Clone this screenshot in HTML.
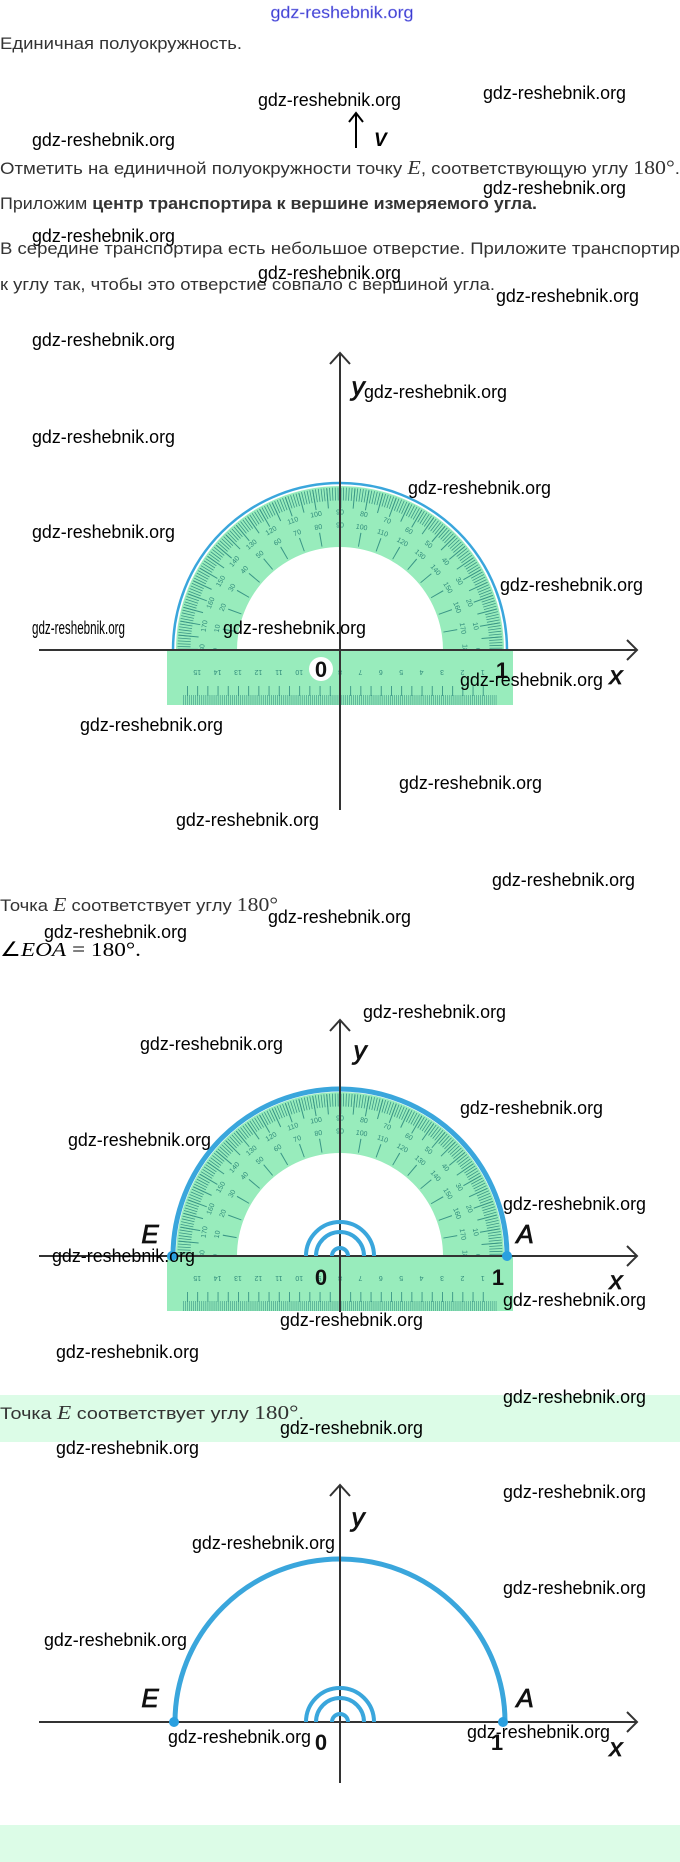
<!DOCTYPE html>
<html><head><meta charset="utf-8"><style>
html,body{margin:0;padding:0;background:#fff;width:680px;height:1862px;overflow:hidden}
svg{display:block}
.t{font-family:"Liberation Sans",sans-serif;font-size:17px;fill:#333}
.m{font-family:"Liberation Serif",serif;font-size:20px}
.w{font-family:"Liberation Sans",sans-serif;font-size:18px;fill:#000}
.lb{font-family:"Liberation Sans",sans-serif;font-style:italic;font-size:26px;fill:#111;stroke:#111;stroke-width:0.8}
.n{font-family:"Liberation Sans",sans-serif;font-weight:bold;font-size:22px;fill:#111}
.pn{font-family:"Liberation Sans",sans-serif;font-size:7px;fill:#2f8a7a}
</style></head><body>
<svg id="s" width="680" height="1862" viewBox="0 0 680 1862" xmlns="http://www.w3.org/2000/svg">
<defs>
<clipPath id="top1"><rect x="0" y="0" width="680" height="650"/></clipPath>
<clipPath id="top2"><rect x="0" y="850" width="680" height="406"/></clipPath>
</defs>
<rect x="0" y="1395" width="680" height="47" fill="#dcfce7"/>
<rect x="0" y="1825" width="680" height="37" fill="#dcfce7"/>

<text x="342" y="18" text-anchor="middle" font-family="Liberation Sans,sans-serif" font-size="17" fill="#3a3ad0" stroke="#9a9af0" stroke-width="0.4" textLength="143" lengthAdjust="spacingAndGlyphs">gdz-reshebnik.org</text>

<text class="t" x="0" y="49" textLength="242" lengthAdjust="spacingAndGlyphs">Единичная полуокружность.</text>
<line x1="356" y1="114" x2="356" y2="148" stroke="#000" stroke-width="2"/>
<polyline points="349,122 356,113 363,122" fill="none" stroke="#000" stroke-width="2"/>
<text x="374" y="146" font-family="Liberation Sans,sans-serif" font-weight="bold" font-style="italic" font-size="19">V</text>
<text class="t" x="0" y="174" textLength="680" lengthAdjust="spacingAndGlyphs">Отметить на единичной полуокружности точку <tspan class="m" font-style="italic">E</tspan>, соответствующую углу <tspan class="m">180°</tspan>.</text>
<text class="t" x="0" y="209" textLength="537" lengthAdjust="spacingAndGlyphs">Приложим <tspan font-weight="bold">центр транспортира к вершине измеряемого угла.</tspan></text>
<text class="t" x="0" y="254" textLength="680" lengthAdjust="spacingAndGlyphs">В середине транспортира есть небольшое отверстие. Приложите транспортир</text>
<text class="t" x="0" y="290" textLength="495" lengthAdjust="spacingAndGlyphs">к углу так, чтобы это отверстие совпало с вершиной угла.</text>

<g id="p1"></g>
<g stroke="#333" stroke-width="2" fill="none">
<line x1="39" y1="650" x2="637" y2="650"/><polyline points="627,640 637,650 627,660"/>
<line x1="340" y1="353" x2="340" y2="810"/><polyline points="330,364 340,353 350,364"/>
</g>
<circle cx="321" cy="669" r="12" fill="#fff"/>
<text class="n" x="321" y="677" text-anchor="middle">0</text>
<text class="n" x="502" y="678" text-anchor="middle">1</text>
<text class="lb" x="616" y="684" text-anchor="middle">x</text>
<text class="lb" x="358" y="395" text-anchor="middle" font-size="30">y</text>

<text class="t" x="0" y="911" textLength="278" lengthAdjust="spacingAndGlyphs">Точка <tspan class="m" font-style="italic">E</tspan> соответствует углу <tspan class="m">180°</tspan></text>
<text class="m" x="0" y="956" textLength="141" lengthAdjust="spacingAndGlyphs">∠<tspan font-style="italic">EOA</tspan> = 180°.</text>

<g id="p2"></g>
<g stroke="#333" stroke-width="2" fill="none">
<line x1="39" y1="1256" x2="637" y2="1256"/><polyline points="627,1246 637,1256 627,1266"/>
<line x1="340" y1="1020" x2="340" y2="1312"/><polyline points="330,1031 340,1020 350,1031"/>
</g>
<g stroke="#3aa6dc" stroke-width="4" fill="none">
<path d="M306 1256 A34 34 0 0 1 374 1256"/><path d="M316 1256 A24 24 0 0 1 364 1256"/><path d="M332 1256 A8 8 0 0 1 348 1256"/>
</g>
<circle cx="172" cy="1256" r="5" fill="#2aa0e0"/><circle cx="507" cy="1256" r="5" fill="#2aa0e0"/>
<text class="n" x="321" y="1285" text-anchor="middle">0</text>
<text class="n" x="498" y="1285" text-anchor="middle">1</text>
<text class="lb" x="616" y="1289" text-anchor="middle">x</text>
<text class="lb" x="360" y="1059" text-anchor="middle" font-size="30">y</text>
<text class="lb" x="150" y="1243" text-anchor="middle">E</text>
<text class="lb" x="525" y="1243" text-anchor="middle">A</text>

<text class="t" x="0" y="1419" textLength="304" lengthAdjust="spacingAndGlyphs">Точка <tspan class="m" font-style="italic">E</tspan> соответствует углу <tspan class="m">180°</tspan>.</text>

<path d="M175 1722 A165 163 0 0 1 505 1722" fill="none" stroke="#3aa6dc" stroke-width="5"/>
<g stroke="#333" stroke-width="2" fill="none">
<line x1="39" y1="1722" x2="637" y2="1722"/><polyline points="627,1712 637,1722 627,1732"/>
<line x1="340" y1="1485" x2="340" y2="1783"/><polyline points="330,1496 340,1485 350,1496"/>
</g>
<g stroke="#3aa6dc" stroke-width="4" fill="none">
<path d="M306 1722 A34 34 0 0 1 374 1722"/><path d="M316 1722 A24 24 0 0 1 364 1722"/><path d="M332 1722 A8 8 0 0 1 348 1722"/>
</g>
<circle cx="174" cy="1722" r="5" fill="#2aa0e0"/><circle cx="503" cy="1722" r="5" fill="#2aa0e0"/>
<text class="n" x="321" y="1750" text-anchor="middle">0</text>
<text class="n" x="497" y="1750" text-anchor="middle">1</text>
<text class="lb" x="616" y="1756" text-anchor="middle">x</text>
<text class="lb" x="358" y="1526" text-anchor="middle" font-size="30">y</text>
<text class="lb" x="150" y="1707" text-anchor="middle">E</text>
<text class="lb" x="525" y="1707" text-anchor="middle">A</text>

<g>
<text class="w" x="258" y="106" textLength="143" lengthAdjust="spacingAndGlyphs">gdz-reshebnik.org</text>
<text class="w" x="483" y="99" textLength="143" lengthAdjust="spacingAndGlyphs">gdz-reshebnik.org</text>
<text class="w" x="32" y="146" textLength="143" lengthAdjust="spacingAndGlyphs">gdz-reshebnik.org</text>
<text class="w" x="483" y="194" textLength="143" lengthAdjust="spacingAndGlyphs">gdz-reshebnik.org</text>
<text class="w" x="32" y="242" textLength="143" lengthAdjust="spacingAndGlyphs">gdz-reshebnik.org</text>
<text class="w" x="258" y="279" textLength="143" lengthAdjust="spacingAndGlyphs">gdz-reshebnik.org</text>
<text class="w" x="496" y="302" textLength="143" lengthAdjust="spacingAndGlyphs">gdz-reshebnik.org</text>
<text class="w" x="32" y="346" textLength="143" lengthAdjust="spacingAndGlyphs">gdz-reshebnik.org</text>
<text class="w" x="364" y="398" textLength="143" lengthAdjust="spacingAndGlyphs">gdz-reshebnik.org</text>
<text class="w" x="32" y="443" textLength="143" lengthAdjust="spacingAndGlyphs">gdz-reshebnik.org</text>
<text class="w" x="408" y="494" textLength="143" lengthAdjust="spacingAndGlyphs">gdz-reshebnik.org</text>
<text class="w" x="32" y="538" textLength="143" lengthAdjust="spacingAndGlyphs">gdz-reshebnik.org</text>
<text class="w" x="500" y="591" textLength="143" lengthAdjust="spacingAndGlyphs">gdz-reshebnik.org</text>
<text class="w" x="32" y="634" font-size="11" textLength="93" lengthAdjust="spacingAndGlyphs">gdz-reshebnik.org</text>
<text class="w" x="223" y="634" textLength="143" lengthAdjust="spacingAndGlyphs">gdz-reshebnik.org</text>
<text class="w" x="460" y="686" textLength="143" lengthAdjust="spacingAndGlyphs">gdz-reshebnik.org</text>
<text class="w" x="80" y="731" textLength="143" lengthAdjust="spacingAndGlyphs">gdz-reshebnik.org</text>
<text class="w" x="399" y="789" textLength="143" lengthAdjust="spacingAndGlyphs">gdz-reshebnik.org</text>
<text class="w" x="176" y="826" textLength="143" lengthAdjust="spacingAndGlyphs">gdz-reshebnik.org</text>
<text class="w" x="492" y="886" textLength="143" lengthAdjust="spacingAndGlyphs">gdz-reshebnik.org</text>
<text class="w" x="268" y="923" textLength="143" lengthAdjust="spacingAndGlyphs">gdz-reshebnik.org</text>
<text class="w" x="44" y="938" textLength="143" lengthAdjust="spacingAndGlyphs">gdz-reshebnik.org</text>
<text class="w" x="363" y="1018" textLength="143" lengthAdjust="spacingAndGlyphs">gdz-reshebnik.org</text>
<text class="w" x="140" y="1050" textLength="143" lengthAdjust="spacingAndGlyphs">gdz-reshebnik.org</text>
<text class="w" x="460" y="1114" textLength="143" lengthAdjust="spacingAndGlyphs">gdz-reshebnik.org</text>
<text class="w" x="68" y="1146" textLength="143" lengthAdjust="spacingAndGlyphs">gdz-reshebnik.org</text>
<text class="w" x="503" y="1210" textLength="143" lengthAdjust="spacingAndGlyphs">gdz-reshebnik.org</text>
<text class="w" x="52" y="1262" textLength="143" lengthAdjust="spacingAndGlyphs">gdz-reshebnik.org</text>
<text class="w" x="503" y="1306" textLength="143" lengthAdjust="spacingAndGlyphs">gdz-reshebnik.org</text>
<text class="w" x="280" y="1326" textLength="143" lengthAdjust="spacingAndGlyphs">gdz-reshebnik.org</text>
<text class="w" x="56" y="1358" textLength="143" lengthAdjust="spacingAndGlyphs">gdz-reshebnik.org</text>
<text class="w" x="503" y="1403" textLength="143" lengthAdjust="spacingAndGlyphs">gdz-reshebnik.org</text>
<text class="w" x="280" y="1434" textLength="143" lengthAdjust="spacingAndGlyphs">gdz-reshebnik.org</text>
<text class="w" x="56" y="1454" textLength="143" lengthAdjust="spacingAndGlyphs">gdz-reshebnik.org</text>
<text class="w" x="503" y="1498" textLength="143" lengthAdjust="spacingAndGlyphs">gdz-reshebnik.org</text>
<text class="w" x="192" y="1549" textLength="143" lengthAdjust="spacingAndGlyphs">gdz-reshebnik.org</text>
<text class="w" x="503" y="1594" textLength="143" lengthAdjust="spacingAndGlyphs">gdz-reshebnik.org</text>
<text class="w" x="44" y="1646" textLength="143" lengthAdjust="spacingAndGlyphs">gdz-reshebnik.org</text>
<text class="w" x="168" y="1743" textLength="143" lengthAdjust="spacingAndGlyphs">gdz-reshebnik.org</text>
<text class="w" x="467" y="1738" textLength="143" lengthAdjust="spacingAndGlyphs">gdz-reshebnik.org</text>
</g>
</svg>
<script>
(function(){
var NS="http://www.w3.org/2000/svg";
function el(p,n,a,txt){var e=document.createElementNS(NS,n);for(var k in a)e.setAttribute(k,a[k]);if(txt!=null)e.textContent=txt;p.appendChild(e);return e;}
function build(id,cx,cy,clip,thick){
 var g=document.getElementById(id);
 var G="#98ecbc",T="#3a9686";
 el(g,"path",{d:"M"+(cx-164)+" "+cy+" A164 164 0 0 1 "+(cx+164)+" "+cy+" L"+(cx+103)+" "+cy+" A103 103 0 0 0 "+(cx-103)+" "+cy+" Z",fill:G});
 el(g,"path",{d:"M"+(cx-167)+" "+cy+" A167 167 0 0 1 "+(cx+167)+" "+cy,fill:"none",stroke:"#3aa6dc","stroke-width":thick});
 var cg=el(g,"g",{"clip-path":"url(#"+clip+")"});
 var c1=2*Math.PI*156/360;
 el(cg,"circle",{cx:cx,cy:cy,r:156,fill:"none",stroke:T,"stroke-width":13,"stroke-dasharray":"0.8 "+(c1-0.8).toFixed(3)});
 var c5=2*Math.PI*152/72;
 el(cg,"circle",{cx:cx,cy:cy,r:152,fill:"none",stroke:T,"stroke-width":20,"stroke-dasharray":"1 "+(c5-1).toFixed(3)});
 var c10=2*Math.PI*112/36;
 el(cg,"circle",{cx:cx,cy:cy,r:112,fill:"none",stroke:T,"stroke-width":14,"stroke-dasharray":"1 "+(c10-1).toFixed(3),"stroke-dashoffset":0.5});
 for(var d=0;d<=180;d+=10){
  var a=d*Math.PI/180;
  var r1=138,r2=125;
  var x1=cx-r1*Math.cos(a),y1=cy-r1*Math.sin(a);
  var x2=cx-r2*Math.cos(a),y2=cy-r2*Math.sin(a);
  el(g,"text",{x:x1,y:y1+2.5,"class":"pn","text-anchor":"middle",transform:"rotate("+(d-90)+" "+x1+" "+y1+")"},String(180-d));
  el(g,"text",{x:x2,y:y2+2.5,"class":"pn","text-anchor":"middle",transform:"rotate("+(d-90)+" "+x2+" "+y2+")"},String(d));
 }
 el(g,"rect",{x:cx-173,y:cy,width:346,height:55,fill:G});
 el(g,"line",{x1:cx-157,y1:cy+50,x2:cx+157,y2:cy+50,stroke:T,"stroke-width":10,"stroke-dasharray":"0.6 1.45"});
 el(g,"line",{x1:cx-153,y1:cy+41,x2:cx+153,y2:cy+41,stroke:T,"stroke-width":10,"stroke-dasharray":"0.9 9.3"});
 for(var k=1;k<=15;k++){
  var px=cx+(8-k)*20.4;
  el(g,"text",{x:px,y:cy+25,"class":"pn","text-anchor":"middle",transform:"rotate(180 "+px+" "+(cy+22.5)+")"},String(k));
 }
}
build("p1",340,650,"top1",2.5);
build("p2",340,1256,"top2",5);
})();
</script>
</body></html>
